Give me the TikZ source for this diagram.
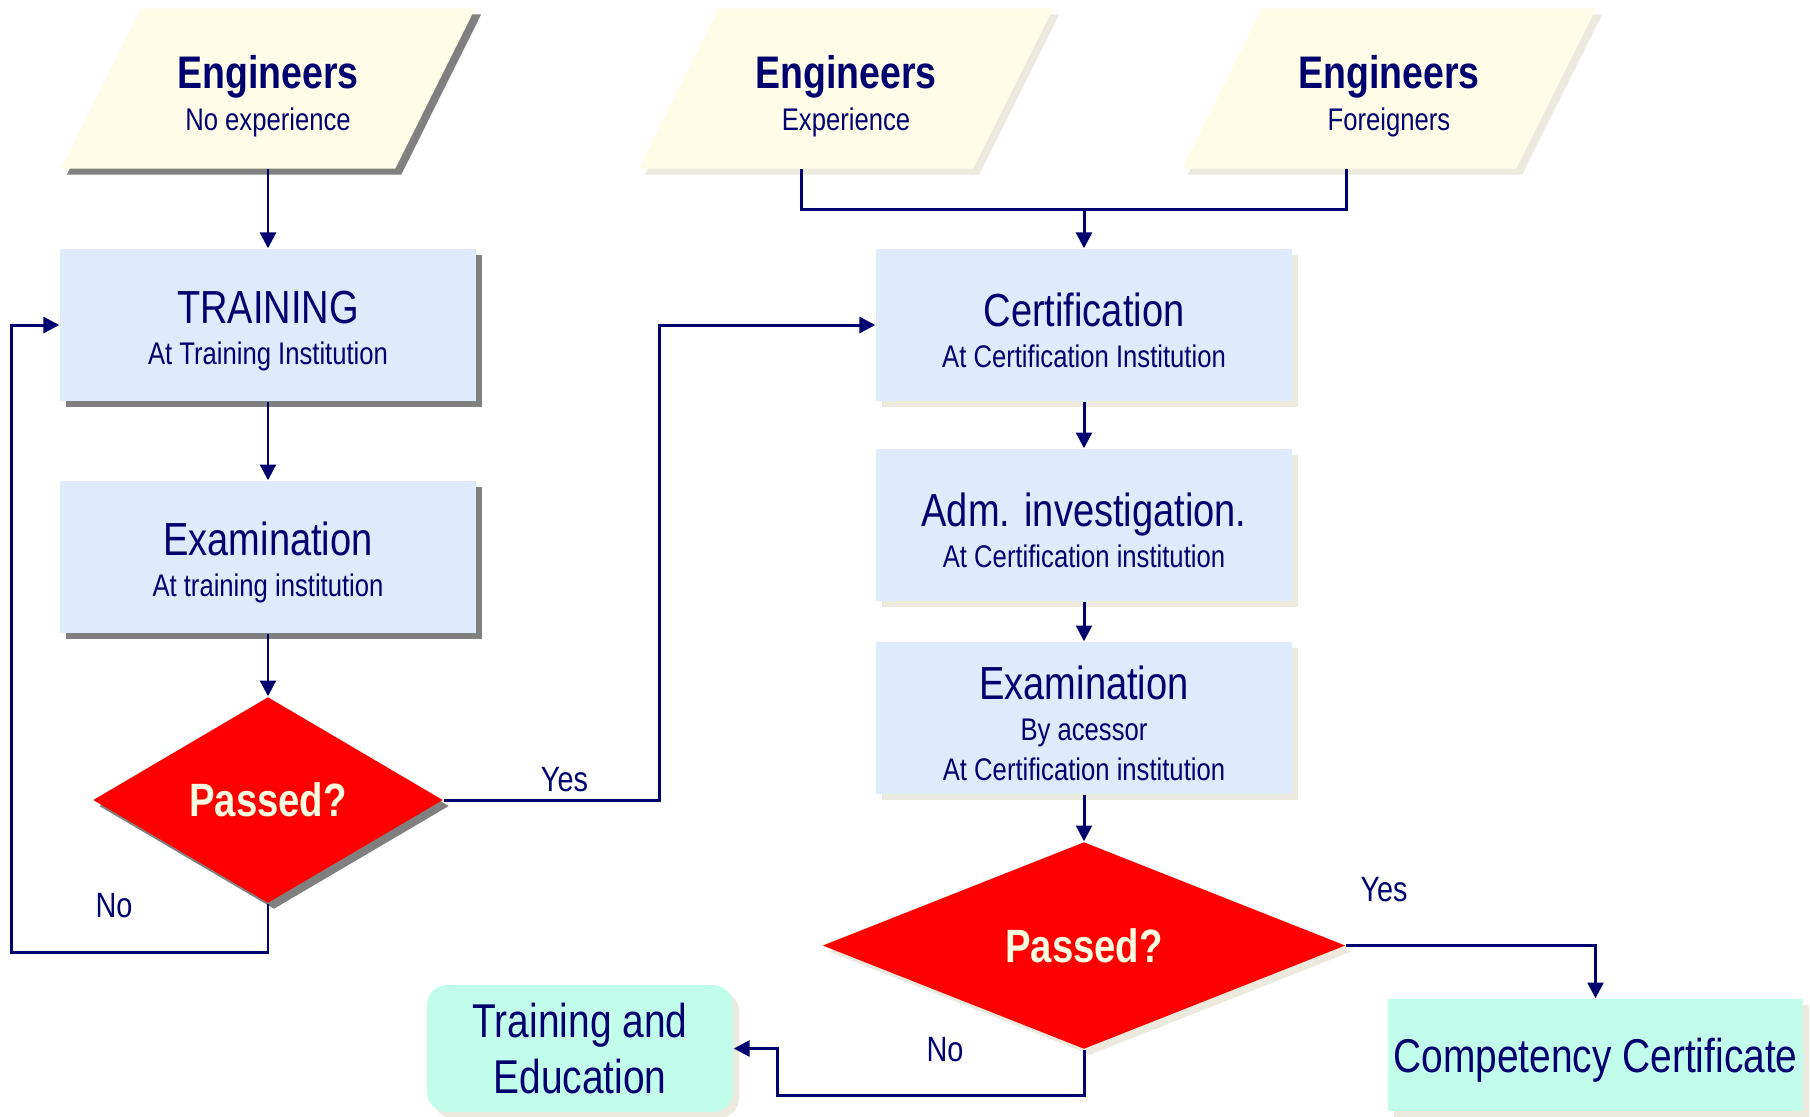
\documentclass[tikz,border=0pt]{standalone}
\usepackage{fontspec}
\setmainfont{Liberation Sans}[FakeStretch=0.82]
\usetikzlibrary{arrows.meta}
\usetikzlibrary{calc}
\usetikzlibrary{shapes.geometric}
\usetikzlibrary{shadows}

\definecolor{ink}{RGB}{0,0,110}
\definecolor{boxblue}{RGB}{221,235,253}
\definecolor{cream}{RGB}{255,253,232}
\definecolor{mint}{RGB}{194,253,235}
\definecolor{passtext}{RGB}{255,253,225}
\definecolor{shadowdark}{RGB}{128,128,128}
\definecolor{shadowlight}{RGB}{236,233,222}

\pgfdeclarelayer{back}
\pgfsetlayers{back,main}

\newcommand{\headline}[1]{{\fontsize{13.2}{11.8}\selectfont\rule{0pt}{12.6pt}#1}}
\newcommand{\wholine}[1]{{\fontsize{13}{11.8}\selectfont\bfseries\rule{0pt}{13.8pt}#1}}

\begin{document}
\begin{tikzpicture}[
    every node/.style={text=ink},
    line/.style={draw=ink, line width=0.85pt},
    arr/.style={line, -{Triangle[length=4.5pt, width=4.5pt]}},
    darkshade/.style={drop shadow={shadow xshift=0.06cm, shadow yshift=-0.06cm, fill=shadowdark, opacity=1}},
    lightshade/.style={drop shadow={shadow xshift=0.06cm, shadow yshift=-0.06cm, fill=shadowlight, opacity=1}},
    input/.style={rectangle, minimum width=3.33cm, minimum height=1.59cm, inner sep=0pt, align=center,
        font=\fontsize{8.9}{11.8}\selectfont},
    box/.style={rectangle, fill=boxblue, minimum width=4.16cm, minimum height=1.52cm, inner sep=0pt,
        align=center, font=\fontsize{8.9}{11.8}\selectfont},
    check/.style={diamond, fill=red, inner sep=0pt, text=passtext, font=\fontsize{13.3}{14}\selectfont\bfseries},
    result/.style={rectangle, fill=mint, inner sep=0pt, align=center, font=\fontsize{13.5}{16}\selectfont},
    answer/.style={font=\fontsize{10}{12}\selectfont}
  ]
    \useasboundingbox (0,0) rectangle (18.10,-11.16);

    % who comes in
    \node[input] (eng1) at (2.68,-0.885) {\wholine{Engineers}\\No experience};
    \node[input] (eng2) at (8.46,-0.885) {\wholine{Engineers}\\Experience};
    \node[input] (eng3) at (13.89,-0.885) {\wholine{Engineers}\\Foreigners};

    \begin{pgfonlayer}{back}
      \foreach \e/\s in {eng1/shadowdark, eng2/shadowlight, eng3/shadowlight} {
        \fill[\s, transform canvas={xshift=0.06cm, yshift=-0.06cm}]
          ($(\e.south west)+(-0.4,0)$) -- ($(\e.north west)+(0.4,0)$)
          -- ($(\e.north east)+(0.4,0)$) -- ($(\e.south east)+(-0.4,0)$) -- cycle;
        \fill[cream]
          ($(\e.south west)+(-0.4,0)$) -- ($(\e.north west)+(0.4,0)$)
          -- ($(\e.north east)+(0.4,0)$) -- ($(\e.south east)+(-0.4,0)$) -- cycle;
      }
    \end{pgfonlayer}

    % left column
    \node[box, darkshade] (train) at (2.68,-3.25) {\headline{TRAINING}\\At Training Institution};
    \node[box, darkshade] (examL) at (2.68,-5.57) {\headline{Examination}\\At training institution};
    \node[check, darkshade, minimum width=3.50cm, minimum height=2.06cm] (passL) at (2.68,-8.00) {Passed?};

    % right column
    \node[box, lightshade] (cert) at (10.84,-3.25) {\headline{Certification}\\At Certification Institution};
    \node[box, lightshade] (adm) at (10.84,-5.25) {\headline{Adm. investigation.}\\At Certification institution};
    \node[box, lightshade, font=\fontsize{8.9}{11.4}\selectfont] (examR) at (10.84,-7.18)
        {\headline{Examination}\\By acessor\\At Certification institution};
    \node[check, lightshade, minimum width=5.23cm, minimum height=2.07cm] (passR) at (10.84,-9.455) {Passed?};

    % outcomes
    \node[result, lightshade, rounded corners=0.2cm, minimum width=3.06cm, minimum height=1.27cm] (trainEdu)
        at (5.80,-10.485) {Training and\\Education};
    \node[result, lightshade, text depth=0pt, minimum width=4.15cm, minimum height=1.12cm] (comp)
        at (15.955,-10.55) {Competency Certificate};

    \node[answer] (yesL) at (5.645,-7.80) {Yes};
    \node[answer] (noL) at (1.14,-9.06) {No};
    \node[answer] (yesR) at (13.84,-8.90) {Yes};
    \node[answer] (noR) at (9.45,-10.50) {No};

    \coordinate (leg2) at (8.01,-2.09);
    \coordinate (leg3) at (13.46,-2.09);
    \coordinate (upL) at (6.59,-3.25);
    \coordinate (backL) at (0.115,-9.52);
    \coordinate (backR) at (7.77,-10.955);

    \draw[arr] (eng1.south -| train) -- (train);
    \draw[line] (eng2.south -| leg2) -- (leg2) -- (leg3) -- (eng3.south -| leg3);
    \draw[arr] (leg2 -| cert) -- (cert);

    \draw[arr] (train) -- (examL);
    \draw[arr] (examL) -- (passL);
    \draw[arr] (passL.east) -| (upL) -- (cert.west);
    \draw[arr] (passL.south) |- (backL) |- (train.west);

    \draw[arr] (cert) -- (adm);
    \draw[arr] (adm) -- (examR);
    \draw[arr] (examR) -- (passR);
    \draw[arr] (passR.east) -| (comp.north);
    \draw[arr] (passR.south) |- (backR) |- (trainEdu.east);
  \end{tikzpicture}
\end{document}
